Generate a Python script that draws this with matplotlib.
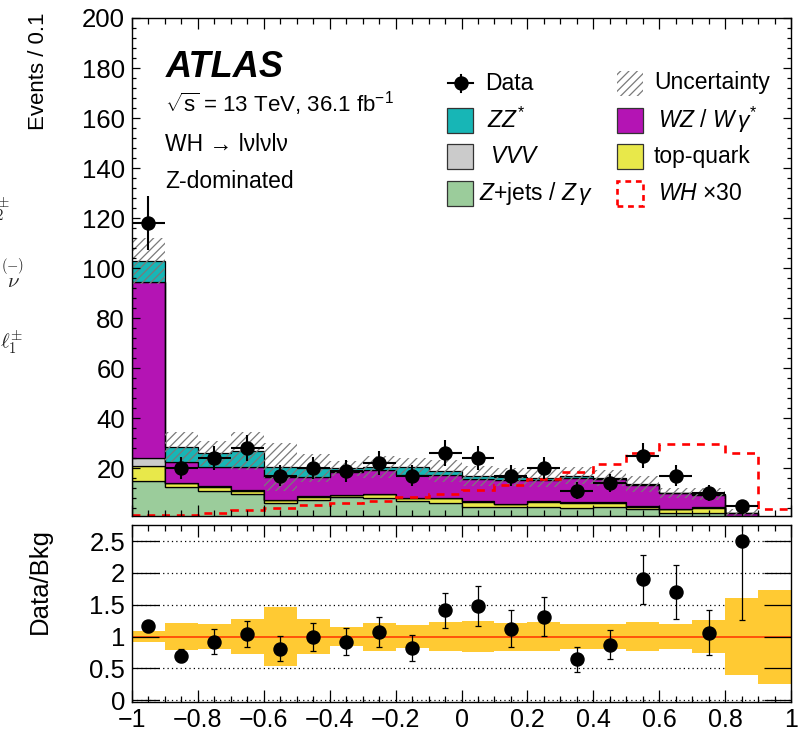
import numpy as np
import matplotlib
matplotlib.use('Agg')
import matplotlib.pyplot as plt
from matplotlib.patches import Rectangle
from matplotlib.lines import Line2D
from matplotlib.ticker import MultipleLocator, FuncFormatter, NullLocator

plt.rcParams['font.family'] = ['Liberation Sans', 'DejaVu Sans']
plt.rcParams['mathtext.fontset'] = 'custom'
plt.rcParams['mathtext.rm'] = 'Liberation Sans'
plt.rcParams['mathtext.it'] = 'Liberation Sans:italic'
plt.rcParams['mathtext.bf'] = 'Liberation Sans:bold'
plt.rcParams['hatch.linewidth'] = 0.9

# bin edges of the discriminant (20 bins of 0.1)
edges = [-1.0, -0.9, -0.8, -0.7, -0.6, -0.5, -0.4, -0.3, -0.2, -0.1, 0.0,
         0.1, 0.2, 0.3, 0.4, 0.5, 0.6, 0.7, 0.8, 0.9, 1.0]

# stacked backgrounds, bottom to top
zjets = [15.0, 12.6, 11.0, 9.7, 6.2, 7.3, 8.4, 8.1, 6.8, 6.2,
         4.4, 4.4, 4.6, 4.0, 4.4, 3.6, 2.0, 2.0, 0.3, 0.0]
topq = [5.9, 1.4, 1.6, 1.3, 1.1, 1.3, 0.9, 1.6, 1.3, 1.9,
        2.2, 1.3, 2.0, 2.2, 1.8, 1.0, 1.6, 2.2, 0.3, 0.0]
vvv = [3.1, 0.2, 0.2, 0.2, 0.1, 0.1, 0.1, 0.1, 0.1, 0.1,
       0.1, 0.1, 0.1, 0.1, 0.1, 0.1, 0.1, 0.1, 0.1, 0.0]
wz = [70.6, 8.4, 7.6, 9.2, 9.2, 7.9, 9.0, 9.6, 8.9, 8.9,
      8.9, 9.5, 8.6, 9.7, 9.3, 8.6, 6.3, 5.0, 1.2, 0.1]
zz = [8.3, 6.0, 5.6, 6.6, 3.8, 3.4, 1.6, 1.0, 3.3, 1.9,
      1.3, 1.1, 0.7, 0.9, 0.4, 0.4, 0.2, 0.4, 0.3, 0.0]

# WH signal scaled by 30
wh30 = [1.2, 1.2, 2.1, 3.1, 4.1, 5.4, 6.1, 6.8, 8.4, 9.5,
        11.1, 13.2, 15.5, 18.3, 21.7, 25.9, 29.7, 29.7, 25.9, 3.5]

# data (last bin empty)
data = [118, 20, 24, 28, 17, 20, 19, 22, 17, 26,
        24, 17, 20, 11, 14, 25, 17, 10, 5, np.nan]
data_err = [10.9, 4.5, 4.9, 5.3, 4.1, 4.5, 4.4, 4.7, 4.1, 5.1,
            4.9, 4.1, 4.5, 3.3, 3.7, 5.0, 4.1, 3.2, 2.2, np.nan]

# ratio panel
ratio = [1.16, 0.70, 0.92, 1.04, 0.81, 0.99, 0.92, 1.07, 0.82, 1.42,
         1.48, 1.12, 1.31, 0.65, 0.87, 1.90, 1.70, 1.06, 2.50, np.nan]
ratio_hi = [1.25, 0.80, 1.12, 1.25, 1.01, 1.22, 1.14, 1.30, 1.02, 1.69,
            1.79, 1.41, 1.62, 0.84, 1.11, 2.28, 2.13, 1.42, 3.20, np.nan]
ratio_lo = [1.07, 0.60, 0.73, 0.84, 0.61, 0.77, 0.71, 0.83, 0.61, 1.13,
            1.17, 0.84, 1.01, 0.44, 0.64, 1.51, 1.28, 0.71, 1.26, np.nan]
# relative background uncertainty (half width)
syst = [0.09, 0.21, 0.19, 0.28, 0.47, 0.28, 0.15, 0.22, 0.18, 0.23,
        0.24, 0.22, 0.23, 0.20, 0.20, 0.23, 0.20, 0.26, 0.60, 0.74]

c_zz = '#17B6B6'
c_wz = '#B414B4'
c_vvv = '#CBCBCB'
c_top = '#E8E84A'
c_zj = '#9BCC9B'
c_band = '#FFCA33'
c_hatch = '#7a7a7a'

W, H = 805, 732
fig = plt.figure(figsize=(W / 100, H / 100), dpi=100)


def fx(x):
    return x / W


def fy(y):
    return 1 - y / H


ax = fig.add_axes([fx(132), fy(515.7), (791 - 132) / W, (515.7 - 18) / H])
rax = fig.add_axes([fx(132), fy(702), (791 - 132) / W, (702 - 525) / H])

edges = np.array(edges)
centers = 0.5 * (edges[:-1] + edges[1:])
layers = [(zjets, c_zj), (topq, c_top), (vvv, c_vvv), (wz, c_wz), (zz, c_zz)]
base = np.zeros(len(centers))
for vals, col in layers:
    topv = base + np.array(vals)
    ax.stairs(topv, edges, baseline=base.copy(), fill=True, facecolor=col,
              edgecolor='black', linewidth=0.9, zorder=1)
    base = topv
total = base

syst = np.array(syst)
ax.stairs(total * (1 + syst), edges, baseline=total * (1 - syst), fill=True,
          facecolor='none', edgecolor=c_hatch, hatch='////', linewidth=0,
          zorder=1.2)

ax.stairs(wh30, edges, baseline=None, color='#FF0000', linewidth=1.9,
          linestyle=(0, (3.0, 2.6)), zorder=1.5)

ax.errorbar(centers, data, yerr=data_err, xerr=0.05, fmt='o', color='black',
            ms=9.4, elinewidth=1.5, capsize=0, zorder=3)

ax.set_xlim(-1, 1)
ax.set_ylim(1.0, 200)
ax.xaxis.set_major_locator(MultipleLocator(0.2))
ax.xaxis.set_minor_locator(MultipleLocator(0.05))
ax.yaxis.set_major_locator(MultipleLocator(20))
ax.yaxis.set_minor_locator(MultipleLocator(4))
ax.tick_params(which='both', direction='in', top=True, right=True,
               labelbottom=False, labelsize=18.5, pad=5, width=0.9)
ax.tick_params(axis='y', which='major', length=6)
ax.tick_params(axis='y', which='minor', length=3)
ax.tick_params(axis='x', which='major', length=8)
ax.tick_params(axis='x', which='minor', length=4.5)
for s in ax.spines.values():
    s.set_linewidth(1.0)

# ratio panel
for g in [0, 0.5, 1.0, 1.5, 2.0, 2.5]:
    rax.axhline(g, color='black', linestyle=(0, (1, 2.5)), linewidth=0.9,
                zorder=0.5)
rax.stairs(1 + syst, edges, baseline=1 - syst, fill=True, color=c_band,
           linewidth=0, zorder=1)
rax.axhline(1.0, color='#FF3300', linewidth=1.1, zorder=1.5)
ratio = np.array(ratio)
yerr = [ratio - np.array(ratio_lo), np.array(ratio_hi) - ratio]
rax.errorbar(centers, ratio, yerr=yerr, fmt='o', color='black', ms=9.4,
             elinewidth=0.9, capsize=2.0, capthick=0.9, zorder=3)

rax.set_xlim(-1, 1)
rax.set_ylim(-0.03, 2.755)
rax.xaxis.set_major_locator(MultipleLocator(0.2))
rax.xaxis.set_minor_locator(MultipleLocator(0.05))
rax.yaxis.set_major_locator(MultipleLocator(0.5))
rax.yaxis.set_minor_locator(NullLocator())
rax.tick_params(which='both', direction='in', top=True, right=True,
                labelsize=18.5, width=0.9)
rax.tick_params(axis='y', which='major', length=19.5, pad=5)
rax.tick_params(axis='x', which='major', length=8.5, pad=4, labelsize=18)
rax.tick_params(axis='x', which='minor', length=4.5)
for s in rax.spines.values():
    s.set_linewidth(1.0)


def fmt(v, pos):
    s = '%g' % round(v, 2)
    if s == '-0':
        s = '0'
    return s.replace('-', '\u2212')


rax.xaxis.set_major_formatter(FuncFormatter(fmt))
rax.yaxis.set_major_formatter(FuncFormatter(fmt))
ax.yaxis.set_major_formatter(FuncFormatter(fmt))

# axis titles
fig.text(fx(38), fy(12), 'Events / 0.1', rotation=90, ha='center', va='top',
         fontsize=16)
fig.text(fx(40), fy(581), 'Data/Bkg', rotation=90, ha='center', va='center',
         fontsize=18.5)

# ATLAS label block
fig.text(fx(166), fy(76.7), 'ATLAS', fontsize=26, fontweight='bold',
         fontstyle='italic', va='baseline')
fig.text(fx(165), fy(111.7), r'$\sqrt{\mathrm{s}}$ = 13 TeV, 36.1 fb$^{-1}$',
         fontsize=16, va='baseline')
fig.text(fx(165), fy(151), 'WH \u2192 l\u03bdl\u03bdl\u03bd',
         fontsize=16.5, va='baseline')
fig.text(fx(165), fy(188.3), 'Z-dominated', fontsize=16.5, va='baseline')

# legend
rows = [83, 120, 156.7, 193.3]
bw, bh = 26, 25
fs_leg = 16.5
# Data
fig.add_artist(Line2D([fx(448), fx(473)], [fy(rows[0])] * 2, color='black',
                      lw=1.5, transform=fig.transFigure))
fig.add_artist(Line2D([fx(460.5)] * 2, [fy(75), fy(92)], color='black',
                      lw=1.5, transform=fig.transFigure))
fig.add_artist(Line2D([fx(460.5)], [fy(rows[0])], marker='o', ms=9.4,
                      color='black', transform=fig.transFigure))
fig.text(fx(485), fy(rows[0]), 'Data', fontsize=fs_leg, va='center')
# Uncertainty
fig.add_artist(Rectangle((fx(617), fy(rows[0] + bh / 2)), bw / W, bh / H,
                         facecolor='none', edgecolor=c_hatch, hatch='////',
                         linewidth=0, transform=fig.transFigure))
fig.text(fx(654), fy(rows[0]), 'Uncertainty', fontsize=fs_leg, va='center')

boxes = [
    (447, rows[1], c_zz, 487, r'$ZZ^{*}$'),
    (617, rows[1], c_wz, 658, r'$WZ$ / $W\,\gamma^{*}$'),
    (447, rows[2], c_vvv, 490, r'$VVV$'),
    (617, rows[2], c_top, 654, 'top-quark'),
    (447, rows[3], c_zj, 479, r'$Z$+jets / $Z\,\gamma$'),
]
for bx, by, col, tx, lab in boxes:
    fig.add_artist(Rectangle((fx(bx), fy(by + bh / 2)), bw / W, bh / H,
                             facecolor=col, edgecolor='#333333', linewidth=0.9,
                             transform=fig.transFigure))
    fig.text(fx(tx), fy(by), lab, fontsize=fs_leg, va='center')
fig.add_artist(Rectangle((fx(617), fy(rows[3] + bh / 2)), bw / W, bh / H,
                         facecolor='none', edgecolor='#FF0000', linewidth=1.9,
                         linestyle=(0, (2.2, 1.8)),
                         transform=fig.transFigure))
fig.text(fx(658), fy(rows[3]), r'$WH$ $\times$30', fontsize=fs_leg,
         va='center')

# stray labels on the left edge
fig.text(fx(-13), fy(209), r'$\ell_2^{\pm}$', fontsize=15, ha='left',
         va='center', color='#222222', math_fontfamily='cm')
fig.text(fx(1), fy(274), r'$\overset{(-)}{\nu}$', fontsize=15, ha='left',
         va='center', color='#222222', math_fontfamily='cm')
fig.text(fx(0), fy(342), r'$\ell_1^{\pm}$', fontsize=15, ha='left',
         va='center', color='#222222', math_fontfamily='cm')

fig.savefig('out.png', dpi=100)
